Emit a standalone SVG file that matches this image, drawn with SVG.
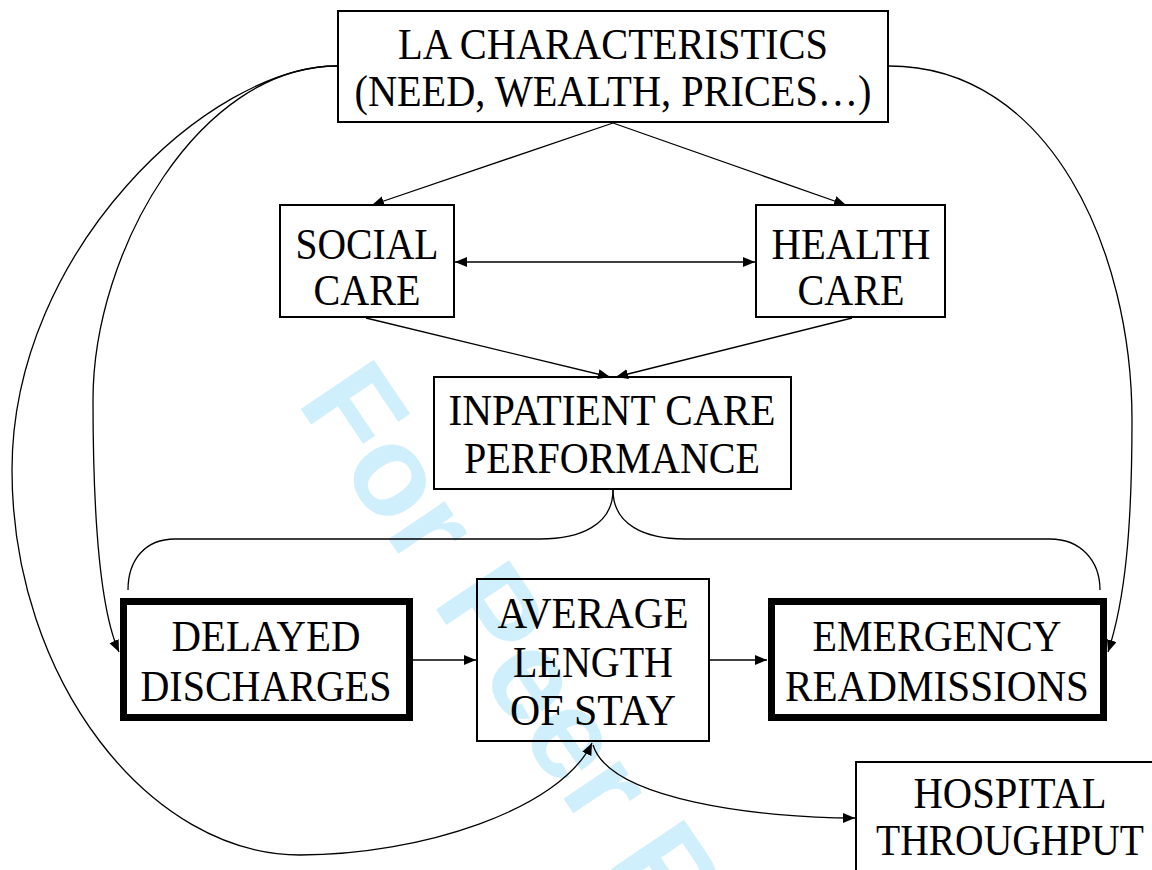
<svg xmlns="http://www.w3.org/2000/svg" width="1152" height="870" viewBox="0 0 1152 870">
<style>
.box{fill:none;stroke:#000;stroke-width:2}
.thick{fill:none;stroke:#000;stroke-width:7}
.t{font-family:"Liberation Serif","Times New Roman",serif;font-size:44px;fill:#000;text-anchor:middle}
.c{fill:none;stroke:#000;stroke-width:1.3}
.wm{font-family:"Liberation Sans",Arial,sans-serif;font-weight:bold;font-size:128px;fill:#d0effc}
</style>
<defs>
<marker id="ah" markerUnits="userSpaceOnUse" markerWidth="13" markerHeight="11" refX="12" refY="5" orient="auto-start-reverse">
<path d="M0,0 L12,5 L0,10 z" fill="#000"/>
</marker>
</defs>
<rect x="0" y="0" width="1152" height="870" fill="#fff"/>
<text class="wm" x="296" y="402" transform="rotate(56 296 402)">For Peer Review</text>
<g id="connectors">
<path class="c" d="M613,123 L372,205" marker-end="url(#ah)"/>
<path class="c" d="M613,123 L846,205" marker-end="url(#ah)"/>
<path class="c" d="M455,262 L755,262" marker-start="url(#ah)" marker-end="url(#ah)"/>
<path class="c" d="M366,318 L610,377" marker-end="url(#ah)"/>
<path class="c" d="M852,318 L616,377" marker-end="url(#ah)"/>
<path class="c" d="M613,490 C613,525 580,539 540,539 L175,539 C145,539 128,560 128,590"/>
<path class="c" d="M613,490 C613,525 645,539 685,539 L1050,539 C1080,539 1100,560 1100,590"/>
<path class="c" d="M413,660 L476,660" marker-end="url(#ah)"/>
<path class="c" d="M710,660 L767,660" marker-end="url(#ah)"/>
<path class="c" d="M337,66 C200,66 93,250 93,400 C93,520 100,610 119,652" marker-end="url(#ah)"/>
<path class="c" d="M337,66 C210,66 12,250 12,470 C12,680 150,855 300,855 C420,855 560,810 592,743" marker-end="url(#ah)"/>
<path class="c" d="M593,745 C610,800 760,818 855,818" marker-end="url(#ah)"/>
<path class="c" d="M889,66 C1050,66 1132,250 1132,420 C1132,530 1125,600 1108,652" marker-end="url(#ah)"/>
</g>
<g id="la">
<rect class="box" x="338" y="11" width="550" height="111"/>
<text class="t" x="613" y="59" textLength="430" lengthAdjust="spacingAndGlyphs">LA CHARACTERISTICS</text>
<text class="t" x="613" y="106" textLength="517" lengthAdjust="spacingAndGlyphs">(NEED, WEALTH, PRICES…)</text>
</g>
<g id="social">
<rect class="box" x="280" y="205" width="174" height="112"/>
<text class="t" x="367" y="259" textLength="143" lengthAdjust="spacingAndGlyphs">SOCIAL</text>
<text class="t" x="367" y="305" textLength="107" lengthAdjust="spacingAndGlyphs">CARE</text>
</g>
<g id="health">
<rect class="box" x="756" y="205" width="189" height="112"/>
<text class="t" x="851" y="259" textLength="159" lengthAdjust="spacingAndGlyphs">HEALTH</text>
<text class="t" x="851" y="305" textLength="107" lengthAdjust="spacingAndGlyphs">CARE</text>
</g>
<g id="inpatient">
<rect class="box" x="434" y="377" width="357" height="112"/>
<text class="t" x="612" y="425" textLength="327" lengthAdjust="spacingAndGlyphs">INPATIENT CARE</text>
<text class="t" x="612" y="473" textLength="296" lengthAdjust="spacingAndGlyphs">PERFORMANCE</text>
</g>
<g id="delayed">
<rect class="thick" x="123.5" y="601.5" width="286" height="116"/>
<text class="t" x="266" y="651" textLength="189" lengthAdjust="spacingAndGlyphs">DELAYED</text>
<text class="t" x="266" y="701" textLength="251" lengthAdjust="spacingAndGlyphs">DISCHARGES</text>
</g>
<g id="alos">
<rect class="box" x="477" y="579" width="232" height="162"/>
<text class="t" x="593" y="628" textLength="191" lengthAdjust="spacingAndGlyphs">AVERAGE</text>
<text class="t" x="593" y="677" textLength="160" lengthAdjust="spacingAndGlyphs">LENGTH</text>
<text class="t" x="593" y="725" textLength="166" lengthAdjust="spacingAndGlyphs">OF STAY</text>
</g>
<g id="emergency">
<rect class="thick" x="771.5" y="601.5" width="332" height="116"/>
<text class="t" x="937" y="651" textLength="249" lengthAdjust="spacingAndGlyphs">EMERGENCY</text>
<text class="t" x="937" y="701" textLength="304" lengthAdjust="spacingAndGlyphs">READMISSIONS</text>
</g>
<g id="hospital">
<rect class="box" x="856" y="762" width="310" height="130"/>
<text class="t" x="1010" y="808" textLength="193" lengthAdjust="spacingAndGlyphs">HOSPITAL</text>
<text class="t" x="1010" y="855" textLength="268" lengthAdjust="spacingAndGlyphs">THROUGHPUT</text>
</g>
</svg>
